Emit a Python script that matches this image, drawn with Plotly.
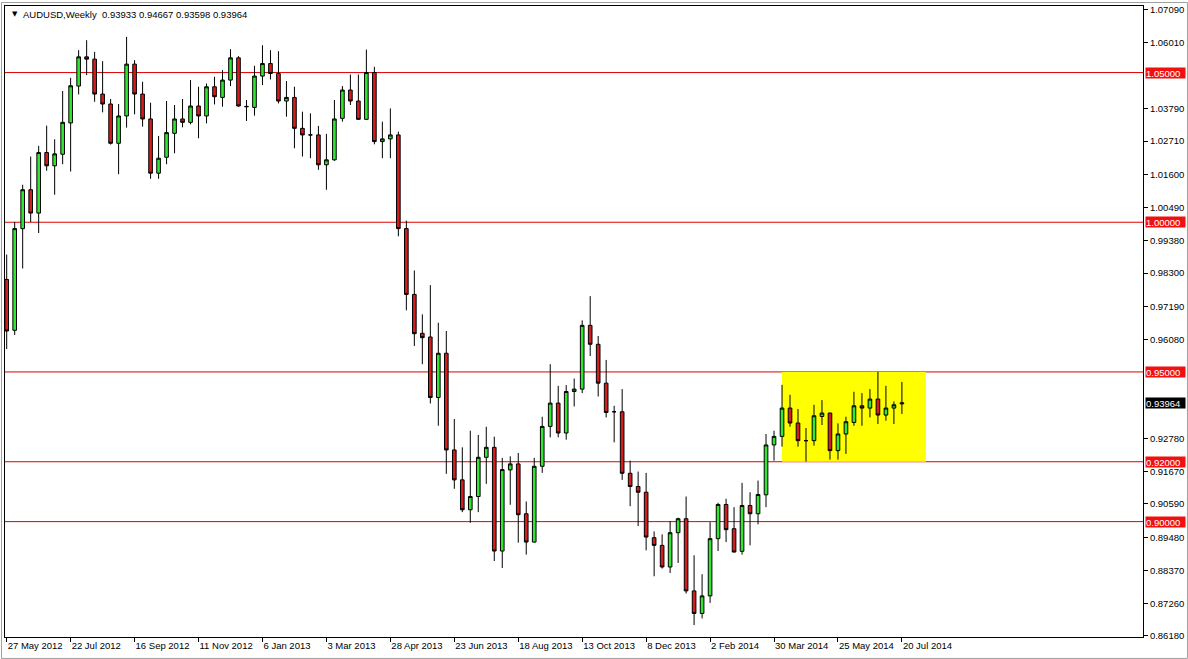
import pandas as pd
import plotly.graph_objects as go

# ---- data (weekly AUDUSD) ----
first_week = "2012-05-27"
n_weeks = 113
weeks = pd.date_range(first_week, periods=n_weeks, freq="7D")

opens = [
    0.98089, 0.96390, 0.99787, 1.01086, 1.00306, 1.02328, 1.01885, 1.02271, 1.03317, 1.04549,
    1.05524, 1.05448, 1.04282, 1.03949, 1.02637, 1.03550, 1.05281, 1.04282, 1.03450, 1.01638,
    1.02171, 1.02970, 1.03450, 1.03337, 1.03883, 1.03550, 1.04525, 1.04169, 1.04749, 1.05491,
    1.03870, 1.03836, 1.04882, 1.05301, 1.04968, 1.04049, 1.04169, 1.03137, 1.02917, 1.02917,
    1.01918, 1.02085, 1.03470, 1.04416, 1.04049, 1.03437, 1.05002, 1.02694, 1.02784, 1.02917,
    0.99787, 0.97589, 0.96290, 0.96167, 0.94146, 0.95624, 0.92394, 0.91395, 0.90396, 0.90839,
    0.92148, 0.92481, 0.89018, 0.91728, 0.91928, 0.90263, 0.89317, 0.91848, 0.93180, 0.93959,
    0.92960, 0.94346, 0.94426, 0.96556, 0.95924, 0.94625, 0.93670, 0.93670, 0.91615, 0.91172,
    0.90982, 0.89463, 0.89207, 0.88485, 0.89630, 0.90097, 0.87686, 0.86933, 0.87519, 0.89431,
    0.90573, 0.89763, 0.89008, 0.90539, 0.90263, 0.90896, 0.92561, 0.92847, 0.93793, 0.93293,
    0.92704, 0.92704, 0.93513, 0.93626, 0.92371, 0.92927, 0.93313, 0.93869, 0.93793, 0.94093,
    0.93560, 0.93793, 0.93933,
]
highs = [
    0.98921, 1.00007, 1.01252, 1.02194, 1.02551, 1.03227, 1.02771, 1.04382, 1.04825, 1.05748,
    1.06081, 1.05691, 1.05381, 1.04116, 1.03949, 1.06190, 1.05415, 1.04692, 1.03993, 1.02884,
    1.04049, 1.03916, 1.04116, 1.04749, 1.04525, 1.04635, 1.04858, 1.05082, 1.05781, 1.05548,
    1.04083, 1.05225, 1.05914, 1.05748, 1.05714, 1.04715, 1.04525, 1.03693, 1.03636, 1.03217,
    1.02950, 1.04083, 1.04549, 1.04935, 1.04935, 1.05768, 1.05191, 1.03360, 1.03803, 1.03027,
    1.00053, 0.98388, 0.96923, 0.97899, 0.96643, 0.96367, 0.93426, 0.92481, 0.93037, 0.92894,
    0.93170, 0.92837, 0.92128, 0.92181, 0.92294, 0.90673, 0.92128, 0.93503, 0.95258, 0.94535,
    0.94559, 0.94779, 0.96723, 0.97532, 0.96200, 0.95401, 0.93869, 0.94426, 0.92038, 0.91672,
    0.91628, 0.89674, 0.89574, 0.90017, 0.90130, 0.90839, 0.88874, 0.88242, 0.89983, 0.90629,
    0.90763, 0.90483, 0.91295, 0.90982, 0.91372, 0.92927, 0.93037, 0.94569, 0.94236, 0.93760,
    0.93127, 0.93903, 0.94059, 0.93640, 0.93280, 0.93503, 0.94336, 0.94292, 0.94426, 0.95002,
    0.94536, 0.94013, 0.94667,
]
lows = [
    0.95768, 0.96234, 0.98455, 1.00007, 0.99640, 1.01718, 1.00919, 1.01938, 1.01695, 1.04269,
    1.04915, 1.04026, 1.03670, 1.02594, 1.01605, 1.03160, 1.03603, 1.03193, 1.01452, 1.01452,
    1.01938, 1.02304, 1.03170, 1.03270, 1.02804, 1.03303, 1.03936, 1.03859, 1.04549, 1.03859,
    1.03383, 1.03560, 1.04582, 1.04769, 1.03969, 1.03526, 1.02471, 1.02194, 1.02138, 1.01752,
    1.01086, 1.02051, 1.03360, 1.03916, 1.03417, 1.03417, 1.02604, 1.02138, 1.02138, 0.99530,
    0.97056, 0.95867, 0.95258, 0.93946, 0.93203, 0.91595, 0.91096, 0.90316, 0.89963, 0.90316,
    0.91262, 0.88685, 0.88452, 0.90563, 0.89297, 0.88898, 0.89300, 0.91628, 0.92814, 0.92814,
    0.92737, 0.93846, 0.94292, 0.95534, 0.94179, 0.93480, 0.92647, 0.91395, 0.90516, 0.89850,
    0.89041, 0.88175, 0.88432, 0.88285, 0.88618, 0.87599, 0.86543, 0.86766, 0.87286, 0.89018,
    0.89317, 0.88970, 0.88898, 0.89207, 0.89907, 0.90483, 0.92038, 0.92504, 0.93170, 0.92504,
    0.92005, 0.92537, 0.93227, 0.92071, 0.92071, 0.92261, 0.93203, 0.93203, 0.93480, 0.93260,
    0.93370, 0.93260, 0.93598,
]
closes = [
    0.96367, 0.99787, 1.01086, 1.00306, 1.02328, 1.01885, 1.02284, 1.03337, 1.04559, 1.05524,
    1.05448, 1.04282, 1.03949, 1.02637, 1.03550, 1.05281, 1.04282, 1.03450, 1.01638, 1.02138,
    1.02994, 1.03450, 1.03337, 1.03883, 1.03550, 1.04525, 1.04192, 1.04749, 1.05491, 1.03883,
    1.03860, 1.04882, 1.05301, 1.04968, 1.04049, 1.04169, 1.03137, 1.02917, 1.02917, 1.01918,
    1.02085, 1.03450, 1.04416, 1.04049, 1.03437, 1.05002, 1.02694, 1.02784, 1.02917, 0.99787,
    0.97589, 0.96277, 0.96144, 0.94146, 0.95624, 0.92394, 0.91395, 0.90396, 0.90839, 0.92148,
    0.92481, 0.89018, 0.91738, 0.91928, 0.90230, 0.89317, 0.91848, 0.93180, 0.93959, 0.92960,
    0.94346, 0.94426, 0.96556, 0.95924, 0.94625, 0.93646, 0.93670, 0.91615, 0.91172, 0.90982,
    0.89484, 0.89207, 0.88485, 0.89630, 0.90097, 0.87686, 0.86933, 0.87519, 0.89431, 0.90573,
    0.89730, 0.88984, 0.90539, 0.90263, 0.90906, 0.92561, 0.92847, 0.93793, 0.93293, 0.92704,
    0.92704, 0.93536, 0.93626, 0.92371, 0.92927, 0.93337, 0.93869, 0.93793, 0.94093, 0.93560,
    0.93793, 0.93903, 0.93964,
]

level_lines = [1.05000, 1.00000, 0.95000, 0.92000, 0.90000]
current_price = 0.93964
box_start, box_end = "2014-04-06", "2014-08-10"
box_top, box_bottom = 0.95000, 0.92000

price_ticks = [1.07090, 1.06010, 1.03790, 1.02710, 1.01600, 1.00490, 0.99380,
               0.98300, 0.97190, 0.96080, 0.92780, 0.91670, 0.90590,
               0.89480, 0.88370, 0.87260, 0.86180]
date_ticks = ["2012-05-27", "2012-07-22", "2012-09-16", "2012-11-11", "2013-01-06",
              "2013-03-03", "2013-04-28", "2013-06-23", "2013-08-18", "2013-10-13",
              "2013-12-08", "2014-02-02", "2014-03-30", "2014-05-25", "2014-07-20"]
date_labels = ["27 May 2012", "22 Jul 2012", "16 Sep 2012", "11 Nov 2012", "6 Jan 2013",
               "3 Mar 2013", "28 Apr 2013", "23 Jun 2013", "18 Aug 2013", "13 Oct 2013",
               "8 Dec 2013", "2 Feb 2014", "30 Mar 2014", "25 May 2014", "20 Jul 2014"]
header = "AUDUSD,Weekly  0.93933 0.94667 0.93598 0.93964"

# ---- figure ----
FONT = "Liberation Sans"
W, H = 1188, 659
ml, mr, mt, mb = 4, 45, 4, 22
pw, ph = W - ml - mr, H - mt - mb

fig = go.Figure()
fig.add_trace(go.Candlestick(
    x=weeks, open=opens, high=highs, low=lows, close=closes,
    increasing=dict(line=dict(color="black", width=1), fillcolor="#32E632"),
    decreasing=dict(line=dict(color="black", width=1), fillcolor="#D21E1E"),
    whiskerwidth=0, hoverinfo="skip", showlegend=False,
))

shapes = [dict(type="rect", xref="x", yref="y", x0=box_start, x1=box_end,
               y0=box_bottom, y1=box_top, fillcolor="#FFFF00", line=dict(width=0),
               layer="below")]
for lv in level_lines:
    shapes.append(dict(type="line", xref="paper", yref="y", x0=0, x1=1, y0=lv, y1=lv,
                       line=dict(color="#E00000", width=1), layer="below"))
# outer window frame
shapes.append(dict(type="rect", xref="paper", yref="paper",
                   x0=-(ml - 0.5) / pw, x1=1 + (mr - 0.5) / pw,
                   y0=-(mb - 0.5) / ph, y1=1 + (mt - 0.5) / ph,
                   line=dict(color="#A0A0A0", width=1), layer="below"))

annotations = []
for lv in level_lines:
    annotations.append(dict(xref="paper", yref="y", x=1, y=lv, xanchor="left", yanchor="middle",
                            xshift=2, text=f"{lv:.5f}", showarrow=False, bgcolor="#F01010",
                            font=dict(family=FONT, size=9.5, color="white"),
                            width=39, height=10, align="left", borderpad=0))
annotations.append(dict(xref="paper", yref="y", x=1, y=current_price, xanchor="left",
                        yanchor="middle", xshift=2, text=f"{current_price:.5f}", showarrow=False,
                        bgcolor="black", font=dict(family=FONT, size=9.5, color="white"),
                        width=39, height=10, align="left", borderpad=0))
annotations.append(dict(xref="paper", yref="paper", x=0, y=1, xanchor="left", yanchor="middle",
                        xshift=5, yshift=-8, text="▼", showarrow=False,
                        font=dict(family="DejaVu Sans", size=7, color="black")))
annotations.append(dict(xref="paper", yref="paper", x=0, y=1, xanchor="left", yanchor="middle",
                        xshift=16, yshift=-8, text=header, showarrow=False,
                        font=dict(family=FONT, size=9.5, color="black")))

fig.update_layout(
    width=W, height=H,
    margin=dict(l=ml, r=mr, t=mt, b=mb, pad=0),
    paper_bgcolor="white", plot_bgcolor="white",
    shapes=shapes, annotations=annotations,
    showlegend=False,
    xaxis=dict(
        type="date", range=["2012-05-25 12:18", "2015-02-16 03:18"],
        rangeslider=dict(visible=False),
        tickmode="array", tickvals=date_ticks, ticktext=date_labels,
        ticks="outside", ticklen=4, tickcolor="black", tickwidth=1,
        ticklabelposition="outside right",
        tickfont=dict(family=FONT, size=9.5, color="black"),
        showgrid=False, zeroline=False,
        showline=True, linecolor="black", linewidth=1, mirror=True,
    ),
    yaxis=dict(
        side="right", range=[0.86146, 1.07223],
        tickmode="array", tickvals=price_ticks, tickformat=".5f",
        ticks="outside", ticklen=4, tickcolor="black", tickwidth=1,
        tickfont=dict(family=FONT, size=9.5, color="black"),
        showgrid=False, zeroline=False,
        showline=True, linecolor="black", linewidth=1, mirror=True,
    ),
    boxgap=0.35,
)

fig.write_html(
    "out.html",
    config={"displayModeBar": False},
    post_script="document.body.style.margin='0';document.body.style.padding='0';"
                "document.body.style.overflow='hidden';",
)
